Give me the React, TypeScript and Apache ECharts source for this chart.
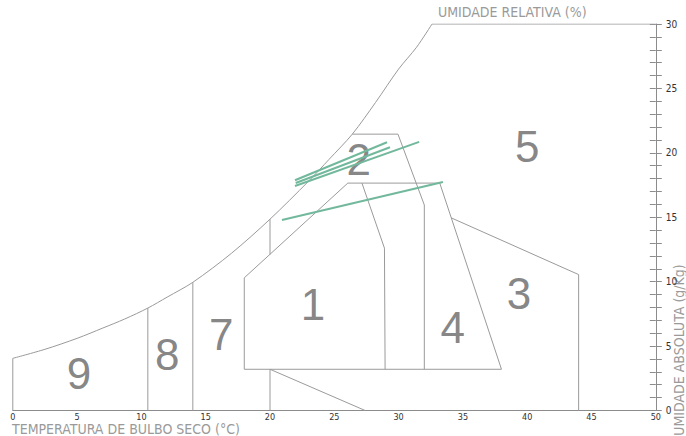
import React, { useEffect, useRef } from "react";
import * as echarts from "echarts";

type Pt = [number, number];

// Saturation curve (dry bulb °C, absolute humidity g/kg)
const saturationCurve: Pt[] = [
  [0, 4.05], [2.5, 4.75], [5, 5.6], [7, 6.4], [8.7, 7.1], [10.5, 7.95], [12, 8.8], [14, 9.95],
  [17, 12.2], [20, 14.85], [23, 17.8], [24.6, 19.5], [26.4, 21.45], [28.2, 23.9],
  [30, 26.5], [31.4, 28.2], [32.6, 30],
];
const topLimit: Pt[] = [[32.6, 30], [50, 30]];

// Zone boundaries
const zone1Left: Pt[] = [[18, 3.2], [18, 10.3], [26.05, 17.65], [33.2, 17.65]];
const zone1Right: Pt[] = [[27.15, 17.65], [28.9, 12.6], [28.95, 3.2]];
const zone2Edge: Pt[] = [[26.4, 21.45], [29.95, 21.45], [32.0, 15.95], [32.0, 3.2]];
const zone4Right: Pt[] = [[33.2, 17.65], [38.0, 3.2]];
const comfortBottom: Pt[] = [[18, 3.2], [38.0, 3.2]];
const zone3Edge: Pt[] = [[34.1, 14.95], [44.0, 10.55], [44.0, 0]];
const zone20Low: Pt[] = [[20, 0], [20, 3.2], [27.4, 0]];
const zone20Up: Pt[] = [[20, 14.85], [20, 12.1]];
const line14: Pt[] = [[14, 0], [14, 9.95]];
const line10: Pt[] = [[10.5, 0], [10.5, 7.95]];
const line0: Pt[] = [[0, 0], [0, 4.05]];

const boundaryLines: Pt[][] = [
  saturationCurve, topLimit, zone1Left, zone1Right, zone2Edge, zone4Right,
  comfortBottom, zone3Edge, zone20Low, zone20Up, line14, line10, line0,
];

// Green climate lines
const climate1: Pt[] = [[21.94, 17.87], [29.1, 20.82]];
const climate2: Pt[] = [[22.0, 17.66], [29.33, 20.43]];
const climate3: Pt[] = [[21.94, 17.43], [31.6, 20.85]];
const climate4: Pt[] = [[20.93, 14.79], [33.45, 17.74]];
const climateLines: Pt[][] = [climate1, climate2, climate3, climate4];

// Zone numbers
const zoneNames = ["1", "2", "3", "4", "5", "7", "8", "9"];
const zonePositions: Pt[] = [
  [23.34, 8.25], [26.9, 19.5], [39.36, 9.1], [34.2, 6.45],
  [40.0, 20.5], [16.2, 5.9], [12.0, 4.35], [5.15, 2.9],
];

const NARROW = "'Liberation Sans Narrow', 'Arial Narrow', 'DejaVu Sans Condensed', sans-serif";
const SANS = "'Liberation Sans', Arial, sans-serif";

const GRID = { left: 12.8, right: 30.2, top: 24, bottom: 25.5 };

export default function App() {
  const ref = useRef<HTMLDivElement>(null);
  useEffect(() => {
    document.body.style.margin = "0";
    if (!ref.current) return;
    const chart = echarts.init(ref.current, null, { renderer: "svg" });
    const yBase = {
      type: "value" as const,
      min: 0,
      max: 30,
      interval: 1,
      position: "right" as const,
      splitLine: { show: false },
    };
    const xBase = {
      type: "value" as const,
      min: 0,
      max: 50,
      interval: 5,
      splitLine: { show: false },
    };
    chart.setOption({
      animation: false,
      backgroundColor: "#ffffff",
      grid: [{ ...GRID }, { ...GRID }],
      xAxis: [
        {
          ...xBase,
          gridIndex: 0,
          axisLine: { show: true, onZero: false, lineStyle: { color: "#8c8c8c", width: 1 } },
          axisTick: { show: false },
          axisLabel: { fontSize: 9, color: "#333", fontFamily: NARROW, margin: 2 },
        },
        {
          ...xBase,
          gridIndex: 1,
          show: false,
        },
      ],
      yAxis: [
        {
          ...yBase,
          gridIndex: 0,
          axisLine: { show: true, onZero: false, lineStyle: { color: "#8c8c8c", width: 1 } },
          axisTick: { show: true, length: 6, lineStyle: { color: "#8c8c8c" } },
          axisLabel: {
            fontSize: 10,
            color: "#333",
            fontFamily: NARROW,
            margin: 10,
            formatter: (v: number) => (v % 5 === 0 ? String(v) : ""),
          },
        },
        {
          ...yBase,
          gridIndex: 1,
          axisLine: { show: false, onZero: false },
          axisTick: { show: true, inside: true, length: 6, lineStyle: { color: "#8c8c8c" } },
          axisLabel: { show: false },
        },
      ],
      series: [
        ...boundaryLines.map((d, i) => ({
          type: "line",
          xAxisIndex: 0,
          yAxisIndex: 0,
          data: d,
          symbol: "none",
          silent: true,
          smooth: i === 0 ? 0.3 : false,
          lineStyle: { color: "#9a9a9a", width: 1 },
        })),
        ...climateLines.map((d) => ({
          type: "line",
          xAxisIndex: 0,
          yAxisIndex: 0,
          data: d,
          symbol: "none",
          silent: true,
          lineStyle: { color: "#72b89c", width: 2 },
        })),
        {
          type: "scatter",
          xAxisIndex: 0,
          yAxisIndex: 0,
          silent: true,
          symbolSize: 1,
          itemStyle: { color: "rgba(0,0,0,0)" },
          data: zoneNames.map((n, i) => ({ name: n, value: zonePositions[i] })),
          label: {
            show: true,
            position: "inside",
            formatter: "{b}",
            fontSize: 44,
            color: "#666666",
            fontFamily: SANS,
          },
        },
      ],
      graphic: [
        {
          type: "text",
          left: 12,
          top: 422,
          style: { text: "TEMPERATURA DE BULBO SECO (°C)", fontSize: 14, fill: "#9a9a9a", fontFamily: NARROW },
        },
        {
          type: "text",
          left: 438,
          top: 5,
          style: { text: "UMIDADE RELATIVA (%)", fontSize: 14, fill: "#9a9a9a", fontFamily: NARROW },
        },
        {
          type: "text",
          x: 679,
          y: 350,
          rotation: Math.PI / 2,
          style: {
            text: "UMIDADE ABSOLUTA (g/Kg)",
            fontSize: 14,
            fill: "#9a9a9a",
            fontFamily: NARROW,
            align: "center",
            verticalAlign: "middle",
          },
        },
      ],
    });
    return () => chart.dispose();
  }, []);
  return <div ref={ref} style={{ width: 686, height: 436 }} />;
}
